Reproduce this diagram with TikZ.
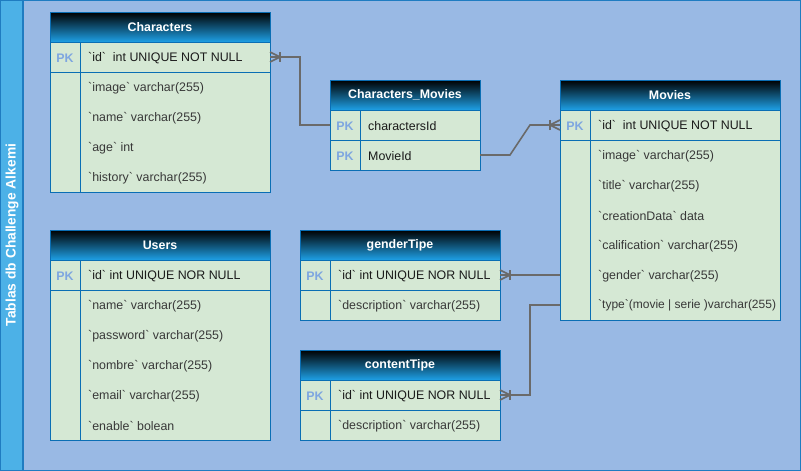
\documentclass[tikz,border=0pt]{standalone}
\usepackage{fontspec}
\setmainfont{Liberation Sans}[Ligatures=TeXOff]
\usetikzlibrary{calc}

\definecolor{lanefill}{HTML}{99B9E4}
\definecolor{lanebar}{HTML}{4CB1E7}
\definecolor{laneline}{HTML}{1F7CC1}
\definecolor{tblline}{HTML}{0A6EB4}
\definecolor{hdrblue}{HTML}{1EA0E6}
\definecolor{rowfill}{HTML}{D5E8D4}
\definecolor{keyblue}{HTML}{7EA6E0}
\definecolor{fieldtext}{HTML}{383838}
\definecolor{keytext}{HTML}{1A1A1A}
\definecolor{linkgray}{HTML}{6A6A6A}

\tikzset{
  hdr/.style={draw=tblline, line width=1pt, top color=black, bottom color=hdrblue,
    text=white, font=\fontsize{12.4pt}{14pt}\selectfont\bfseries, minimum height=30pt,
    inner sep=0pt, outer sep=0pt, anchor=north west},
  tblbody/.style={draw=tblline, line width=1pt, fill=rowfill},
  tblrule/.style={draw=tblline, line width=1pt},
  slot/.style={minimum height=30pt, inner sep=0pt, outer sep=0pt, anchor=west},
  keytag/.style={text=keyblue, font=\fontsize{12.4pt}{14pt}\selectfont\bfseries, inner sep=0pt, yshift=-0.8pt},
  field/.style={anchor=west, text=fieldtext, inner sep=0pt, yshift=-0.8pt},
  tightfield/.style={field, font=\fontsize{12pt}{14pt}\selectfont},
  keyfield/.style={anchor=west, text=keytext, inner sep=0pt, yshift=-0.8pt},
  link/.style={draw=linkgray, line width=1.6pt},
  crowsfoot/.pic={
    \draw[link] (0,-5) -- (10,0) -- (0,5);
    \draw[link] (10,-5) -- (10,5);
  }
}

% one table row: name, left x, centre y, width, key tag, text style, text
\newcommand\erow[7]{%
  \node[slot, minimum width=#4pt] (#1) at (#2,#3) {};
  \node[keytag] at ([xshift=15pt]#1.west) {#5};
  \node[#6] at ([xshift=38pt]#1.west) {#7};
}

\begin{document}
\begin{tikzpicture}[x=1pt, y=-1pt, font=\fontsize{12.4pt}{14pt}\selectfont]
\useasboundingbox (0,0) rectangle (801,471);

% container lane
\filldraw[fill=lanefill, draw=laneline, line width=1.2pt] (0.6,0.6) rectangle (800.4,470.4);
\filldraw[fill=lanebar, draw=laneline, line width=1.2pt] (0.6,0.6) rectangle (23,470.4);
\node[rotate=90, text=white, font=\fontsize{13.8pt}{16pt}\selectfont\bfseries] (lanetitle) at (12,235) {Tablas db Challenge Alkemi};

% ---------------- Characters
\draw[tblbody] (50,42) rectangle (270,192);
\draw[tblrule] (50,72) -- (270,72) (80,42) -- (80,192);
\node[hdr, minimum width=220pt] (characters) at (50,12) {Characters};
\erow{chid}{50}{57}{220}{PK}{keyfield}{`id`\ \ int UNIQUE NOT NULL}
\erow{chimage}{50}{87}{220}{}{field}{`image` varchar(255)}
\erow{chname}{50}{117}{220}{}{field}{`name` varchar(255)}
\erow{chage}{50}{147}{220}{}{field}{`age` int}
\erow{chhist}{50}{177}{220}{}{field}{`history` varchar(255)}

% ---------------- Characters_Movies
\draw[tblbody] (330,110) rectangle (480,170);
\draw[tblrule] (330,140) -- (480,140) (360,110) -- (360,170);
\node[hdr, minimum width=150pt] (charmovies) at (330,80) {Characters\_Movies};
\erow{cmchar}{330}{125}{150}{PK}{keyfield}{charactersId}
\erow{cmmovie}{330}{155}{150}{PK}{keyfield}{MovieId}

% ---------------- Movies
\draw[tblbody] (560,110) rectangle (780,320);
\draw[tblrule] (560,140) -- (780,140) (590,110) -- (590,320);
\node[hdr, minimum width=220pt] (movies) at (560,80) {Movies};
\erow{mvid}{560}{125}{220}{PK}{keyfield}{`id`\ \ int UNIQUE NOT NULL}
\erow{mvimage}{560}{155}{220}{}{field}{`image` varchar(255)}
\erow{mvtitle}{560}{185}{220}{}{field}{`title` varchar(255)}
\erow{mvdate}{560}{215}{220}{}{field}{`creationData` data}
\erow{mvcalif}{560}{245}{220}{}{field}{`calification` varchar(255)}
\erow{mvgender}{560}{275}{220}{}{field}{`gender` varchar(255)}
\erow{mvtype}{560}{305}{220}{}{tightfield}{`type`(movie | serie )varchar(255)}

% ---------------- Users
\draw[tblbody] (50,260) rectangle (270,440);
\draw[tblrule] (50,290) -- (270,290) (80,260) -- (80,440);
\node[hdr, minimum width=220pt] (users) at (50,230) {Users};
\erow{usid}{50}{275}{220}{PK}{keyfield}{`id` int UNIQUE NOR NULL}
\erow{usname}{50}{305}{220}{}{field}{`name` varchar(255)}
\erow{uspass}{50}{335}{220}{}{field}{`password` varchar(255)}
\erow{usnombre}{50}{365}{220}{}{field}{`nombre` varchar(255)}
\erow{usemail}{50}{395}{220}{}{field}{`email` varchar(255)}
\erow{usenable}{50}{425}{220}{}{field}{`enable` bolean}

% ---------------- genderTipe
\draw[tblbody] (300,260) rectangle (500,320);
\draw[tblrule] (300,290) -- (500,290) (330,260) -- (330,320);
\node[hdr, minimum width=200pt] (gendertipe) at (300,230) {genderTipe};
\erow{gtid}{300}{275}{200}{PK}{keyfield}{`id` int UNIQUE NOR NULL}
\erow{gtdesc}{300}{305}{200}{}{field}{`description` varchar(255)}

% ---------------- contentTipe
\draw[tblbody] (300,380) rectangle (500,440);
\draw[tblrule] (300,410) -- (500,410) (330,380) -- (330,440);
\node[hdr, minimum width=200pt] (contenttipe) at (300,350) {contentTipe};
\erow{ctid}{300}{395}{200}{PK}{keyfield}{`id` int UNIQUE NOR NULL}
\erow{ctdesc}{300}{425}{200}{}{field}{`description` varchar(255)}

% ---------------- relations
\draw[link] (chid.east) -- ++(30,0) |- (cmchar.west);
\pic at (chid.east) {crowsfoot};

\draw[link] (cmmovie.east) -- ++(30,0) -- ++(20,-30) -- (mvid.west);
\pic[rotate=180] at (mvid.west) {crowsfoot};

\draw[link] (mvgender.west) -- (gtid.east);
\pic at (gtid.east) {crowsfoot};

\draw[link] (mvtype.west) -- ++(-30,0) |- (ctid.east);
\pic at (ctid.east) {crowsfoot};
\end{tikzpicture}
\end{document}
